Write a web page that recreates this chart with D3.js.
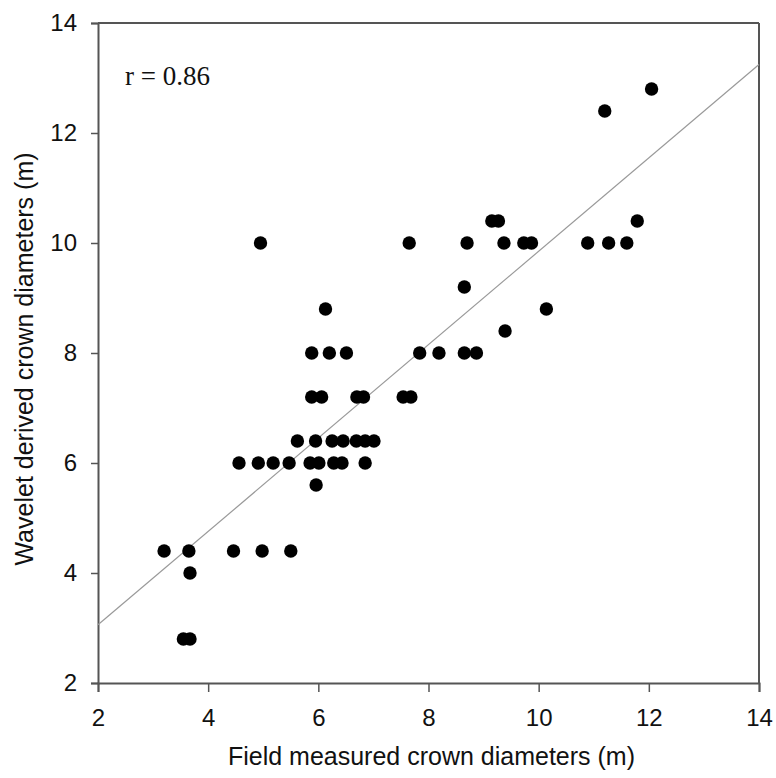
<!DOCTYPE html>
<html lang="en">
<head>
    <meta charset="UTF-8">
    <title>Wavelet vs field crown diameters</title>
    <script src="https://d3js.org/d3.v7.min.js"></script>
    <style>
        body { margin: 0; background: #fff; }
        svg { display: block; }
    </style>
</head>
<body>
<div id="scatter"></div>

<script>
    // values
    var fieldX = [
        3.55, 3.67,
        3.67,
        3.20, 3.65, 4.46, 4.98, 5.50,
        5.96,
        4.56, 4.91, 5.18, 5.47, 5.85, 6.01, 6.28, 6.43, 6.85,
        5.62, 5.95, 6.25, 6.45, 6.69, 6.85, 7.01,
        5.88, 6.06, 6.70, 6.82, 7.54, 7.68,
        5.88, 6.20, 6.51, 7.84, 8.19, 8.65, 8.87,
        9.39,
        6.13, 10.14,
        8.65,
        4.95, 7.65, 8.70, 9.37, 9.73, 9.87, 10.89, 11.27, 11.60,
        9.15, 9.27, 11.79,
        11.20,
        12.05
    ];
    var waveletY = [
        2.8, 2.8,
        4.0,
        4.4, 4.4, 4.4, 4.4, 4.4,
        5.6,
        6.0, 6.0, 6.0, 6.0, 6.0, 6.0, 6.0, 6.0, 6.0,
        6.4, 6.4, 6.4, 6.4, 6.4, 6.4, 6.4,
        7.2, 7.2, 7.2, 7.2, 7.2, 7.2,
        8.0, 8.0, 8.0, 8.0, 8.0, 8.0, 8.0,
        8.4,
        8.8, 8.8,
        9.2,
        10.0, 10.0, 10.0, 10.0, 10.0, 10.0, 10.0, 10.0, 10.0,
        10.4, 10.4, 10.4,
        12.4,
        12.8
    ];
    var tickValues = [2, 4, 6, 8, 10, 12, 14];
    // fitted line, read from where it meets the frame
    var fitIntercept = 1.36,
        fitSlope = 0.849;
    var corrLabel = "r = 0.86";

    var margin = {top: 23, right: 17, bottom: 95, left: 98},
        width = 776 - margin.left - margin.right,
        height = 778 - margin.top - margin.bottom;

    var svg = d3.select("#scatter")
        .append("svg")
            .attr("width", 776)
            .attr("height", 778)
        .append("g")
            .attr("transform", "translate(" + margin.left + "," + margin.top + ")");

    var x = d3.scaleLinear().domain([2, 14]).range([0, width]);
    var y = d3.scaleLinear().domain([2, 14]).range([height, 0]);

    // axes
    var xAxis = svg.append("g")
        .attr("transform", "translate(0," + height + ")")
        .call(d3.axisBottom(x).tickValues(tickValues).tickSize(9).tickPadding(17));
    var yAxis = svg.append("g")
        .call(d3.axisLeft(y).tickValues(tickValues).tickSize(7).tickPadding(14));

    [xAxis, yAxis].forEach(function(a) {
        a.selectAll("path").attr("stroke", "#555").attr("stroke-width", 2);
        a.selectAll("line").attr("stroke", "#555").attr("stroke-width", 1.5);
        a.selectAll("text")
            .attr("fill", "#111")
            .style("font-family", "'Liberation Sans', Arial, sans-serif")
            .style("font-size", "24px");
    });
    xAxis.selectAll("text").attr("dy", "0.71em");

    // top and right sides of the frame
    svg.append("line")
        .attr("x1", 0).attr("x2", width).attr("y1", 0).attr("y2", 0)
        .attr("stroke", "#555").attr("stroke-width", 2);
    svg.append("line")
        .attr("x1", width).attr("x2", width).attr("y1", 0).attr("y2", height)
        .attr("stroke", "#555").attr("stroke-width", 2);

    // regression line
    svg.append("line")
        .attr("x1", x(2)).attr("y1", y(fitIntercept + fitSlope * 2))
        .attr("x2", x(14)).attr("y2", y(fitIntercept + fitSlope * 14))
        .attr("stroke", "#999")
        .attr("stroke-width", 1.2);

    // points
    svg.append("g")
        .selectAll("circle")
        .data(fieldX)
        .enter()
        .append("circle")
            .attr("cx", function(d) { return x(d); })
            .attr("cy", function(d, i) { return y(waveletY[i]); })
            .attr("r", 6.7)
            .attr("fill", "#000");

    // correlation label
    svg.append("text")
        .attr("x", 27)
        .attr("y", 62)
        .style("font-family", "'Liberation Serif', 'Times New Roman', serif")
        .style("font-size", "27px")
        .attr("fill", "#111")
        .text(corrLabel);

    // axis titles
    svg.append("text")
        .attr("x", width / 2 + 3)
        .attr("y", height + 82)
        .style("text-anchor", "middle")
        .style("font-family", "'Liberation Sans', Arial, sans-serif")
        .style("font-size", "25px")
        .attr("fill", "#111")
        .text("Field measured crown diameters (m)");

    svg.append("text")
        .attr("transform", "rotate(-90)")
        .attr("x", -(height / 2) - 6)
        .attr("y", 33 - margin.left)
        .style("text-anchor", "middle")
        .style("font-family", "'Liberation Sans', Arial, sans-serif")
        .style("font-size", "25px")
        .attr("fill", "#111")
        .text("Wavelet derived crown diameters (m)");
</script>
</body>
</html>
